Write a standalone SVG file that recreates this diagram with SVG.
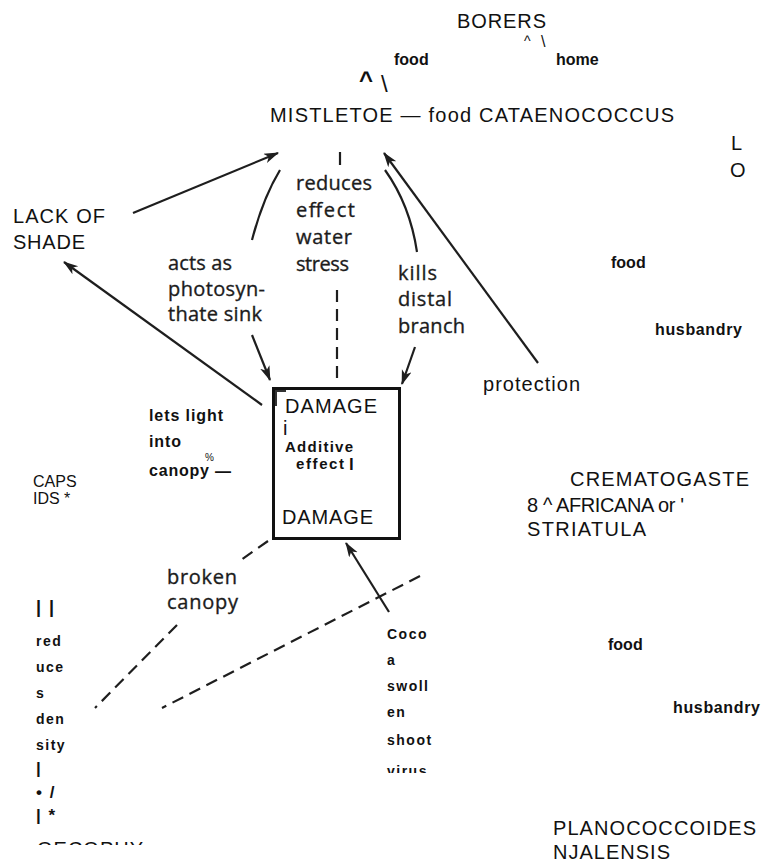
<svg xmlns="http://www.w3.org/2000/svg" width="765" height="868" viewBox="0 0 765 868">
<style>
.t{font-family:"Liberation Sans",Arial,sans-serif;font-size:20px;fill:#111}
.b{font-family:"Liberation Sans",Arial,sans-serif;font-size:14px;font-weight:bold;fill:#111;letter-spacing:1.5px}
.bl{font-family:"Liberation Sans",Arial,sans-serif;font-size:16px;font-weight:bold;fill:#111}
.s{font-family:"Open Sans","DejaVu Sans",sans-serif;font-size:20px;fill:#1c1c1c;stroke:#1c1c1c;stroke-width:0.35}
.ln{stroke:#1e1e1e;stroke-width:2.2;fill:none}
.ar{marker-end:url(#ah)}
.da{stroke-dasharray:12 7}
</style>
<defs>
<marker id="ah" markerUnits="userSpaceOnUse" markerWidth="16" markerHeight="12" refX="14" refY="5" orient="auto">
<path d="M0,0 L15,5 L0,10 L4,5 z" fill="#1e1e1e"/>
</marker>
<clipPath id="cl1"><rect x="0" y="0" width="765" height="845"/></clipPath>
<clipPath id="cl2"><rect x="0" y="0" width="765" height="773"/></clipPath>
</defs>

<g id="borers"><text class="t" x="457" y="28" textLength="89">BORERS</text>
<text class="t" x="524" y="46" style="font-size:14px">^</text><text class="t" x="541" y="47" style="font-size:16px">\</text></g>
<g id="label-food-top"><text class="bl" x="394" y="65">food</text></g>
<g id="label-home"><text class="bl" x="556" y="65">home</text></g>
<g id="caret"><text class="t" x="359" y="88" style="font-size:24px;font-weight:bold">^</text><text class="t" x="381" y="92" style="font-size:24px">\</text></g>
<g id="mistletoe"><text class="t" x="270" y="122" textLength="404">MISTLETOE — food CATAENOCOCCUS</text></g>
<g id="lo"><text class="t" x="731" y="150">L</text><text class="t" x="730" y="177">O</text></g>
<g id="lack-of-shade"><text class="t" x="13" y="223" textLength="92">LACK OF</text><text class="t" x="13" y="249" textLength="72">SHADE</text></g>
<g id="label-food-2"><text class="bl" x="611" y="268">food</text></g>
<g id="label-husbandry-1"><text class="bl" x="655" y="335" textLength="87">husbandry</text></g>
<g id="protection"><text class="t" x="483" y="391" textLength="97">protection</text></g>
<g id="lets-light"><text class="bl" x="149" y="421" textLength="74">lets light</text><text class="bl" x="149" y="447" textLength="32">into</text><text class="bl" x="149" y="476" textLength="60">canopy</text>
<text class="t" x="205" y="461" style="font-size:10px">%</text><text class="t" x="215" y="477" style="font-size:16px;font-weight:bold">—</text></g>
<g id="capsids"><text class="t" x="33" y="487" style="font-size:16px">CAPS</text><text class="t" x="33" y="504" style="font-size:16px">IDS *</text></g>

<g id="damage-box">
<rect x="273.5" y="388.5" width="126" height="150" fill="none" stroke="#111" stroke-width="3"/>
<path d="M276,406 L276,391 L286,391" fill="none" stroke="#333" stroke-width="2"/>
<text class="t" x="285" y="413" textLength="92">DAMAGE</text>
<text class="t" x="283" y="435">i</text>
<text class="bl" x="285" y="452" textLength="68" style="font-size:15px">Additive</text>
<text class="bl" x="296" y="469" textLength="48" style="font-size:15px">effect</text>
<text class="t" x="349" y="470" style="font-weight:bold;font-size:17px">l</text>
<text class="t" x="282" y="524" textLength="91">DAMAGE</text>
</g>

<g id="crematogaster"><text class="t" x="570" y="486" textLength="179">CREMATOGASTE</text><text class="t" x="527" y="512" textLength="157">8 ^ AFRICANA or '</text><text class="t" x="527" y="536" textLength="119">STRIATULA</text></g>

<g id="scan-labels">
<text class="s" x="296" y="190" textLength="76">reduces</text>
<text class="s" x="296" y="217" textLength="59">effect</text>
<text class="s" x="296" y="244" textLength="56">water</text>
<text class="s" x="296" y="271" textLength="53">stress</text>
<text class="s" x="168" y="270" textLength="64">acts as</text>
<text class="s" x="168" y="296" textLength="97">photosyn-</text>
<text class="s" x="168" y="321" textLength="94">thate sink</text>
<text class="s" x="398" y="280" textLength="39">kills</text>
<text class="s" x="398" y="306" textLength="54">distal</text>
<text class="s" x="398" y="333" textLength="67">branch</text>
<text class="s" x="167" y="584" textLength="70">broken</text>
<text class="s" x="167" y="609" textLength="71">canopy</text>
</g>

<g id="left-column" clip-path="url(#cl1)">
<text class="b" x="36" y="613" style="font-size:18px">| |</text>
<text class="b" x="36" y="646">red</text>
<text class="b" x="36" y="672">uce</text>
<text class="b" x="36" y="698">s</text>
<text class="b" x="36" y="724">den</text>
<text class="b" x="36" y="750">sity</text>
<text class="b" x="36" y="774" style="font-size:17px">|</text>
<text class="b" x="36" y="798" style="font-size:17px">• /</text>
<text class="b" x="36" y="821" style="font-size:17px">| *</text>
<text class="t" x="37" y="856" textLength="106">OECOPHY</text>
</g>

<g id="cocoa-virus" clip-path="url(#cl2)">
<text class="b" x="387" y="639">Coco</text>
<text class="b" x="387" y="665">a</text>
<text class="b" x="387" y="691">swoll</text>
<text class="b" x="387" y="717">en</text>
<text class="b" x="387" y="745">shoot</text>
<text class="b" x="387" y="776">virus</text>
</g>

<g id="label-food-3"><text class="bl" x="608" y="650">food</text></g>
<g id="label-husbandry-2"><text class="bl" x="673" y="713" textLength="87">husbandry</text></g>
<g id="planococcoides"><text class="t" x="553" y="835" textLength="203">PLANOCOCCOIDES</text><text class="t" x="553" y="859" textLength="117">NJALENSIS</text></g>

<g id="connectors">
<line class="ln ar" x1="133" y1="213" x2="278" y2="153"/>
<line class="ln ar" x1="262" y1="405" x2="64" y2="262"/>
<path class="ln" d="M280,170 Q263,198 252,240"/>
<line class="ln ar" x1="252" y1="335" x2="270" y2="380"/>
<path class="ln" d="M385,170 Q410,205 417,252"/>
<line class="ln ar" x1="415" y1="347" x2="402" y2="384"/>
<line class="ln ar" x1="538" y1="363" x2="384" y2="153"/>
<line class="ln" x1="340" y1="152" x2="340" y2="165"/>
<line class="ln da" x1="337" y1="290" x2="337" y2="382"/>
<line class="ln da" x1="268" y1="541" x2="238" y2="562"/>
<line class="ln da" x1="177" y1="625" x2="95" y2="708"/>
<line class="ln da" x1="420" y1="576" x2="162" y2="708"/>
<line class="ln ar" x1="389" y1="612" x2="346" y2="543"/>
</g>
</svg>
